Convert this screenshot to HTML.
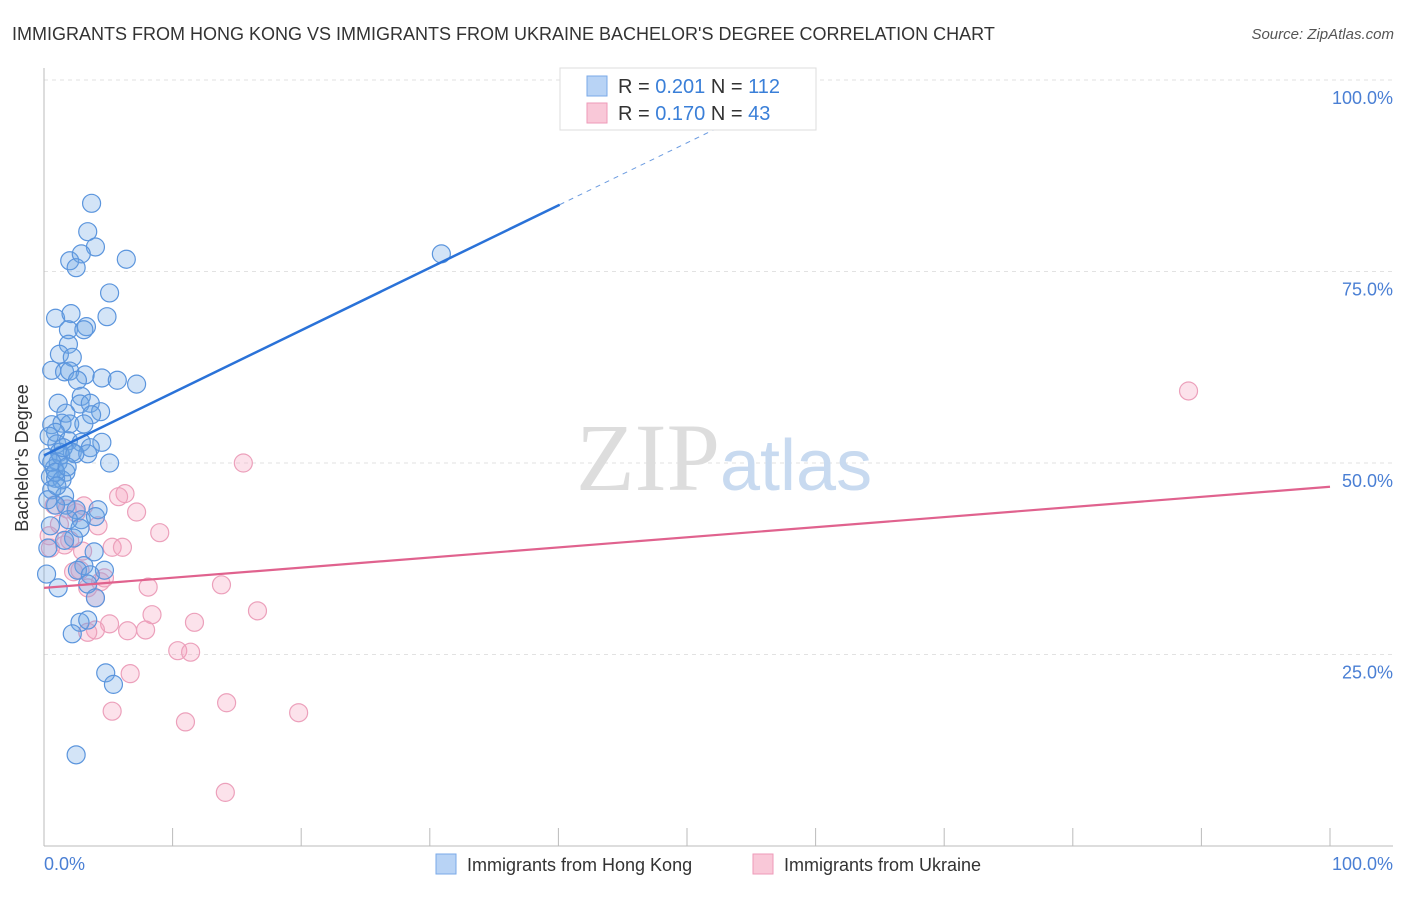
<!DOCTYPE html>
<html><head><meta charset="utf-8"><style>
body{margin:0;background:#fff;font-family:"Liberation Sans",sans-serif;}
svg text{font-family:"Liberation Sans",sans-serif;}
</style></head><body>
<svg width="1406" height="892" viewBox="0 0 1406 892">
<text x="12" y="40" font-size="18" fill="#333">IMMIGRANTS FROM HONG KONG VS IMMIGRANTS FROM UKRAINE BACHELOR'S DEGREE CORRELATION CHART</text>
<text x="1394" y="39" font-size="15" fill="#555" font-style="italic" text-anchor="end">Source: ZipAtlas.com</text>
<g id="grid"></g>
<text x="720" y="490" font-size="96" fill="#ddd" text-anchor="end" font-family="Liberation Serif" style="font-family:'Liberation Serif',serif">ZIP</text>
<text x="720" y="490" font-size="72" fill="#c8daf0">atlas</text>
<g id="points"></g>
<g id="lines"></g>
<text x="28" y="458" font-size="18" fill="#333" transform="rotate(-90 28 458)" text-anchor="middle">Bachelor's Degree</text>
<text x="44" y="870" font-size="18" fill="#4a7fd4">0.0%</text>
<text x="1393" y="870" font-size="18" fill="#4a7fd4" text-anchor="end">100.0%</text>
<g>
<rect x="560" y="68" width="256" height="62" fill="#fff" stroke="#ddd"/>
<rect x="587" y="76" width="20" height="20" fill="#b8d3f5" stroke="#7aaae8"/>
<rect x="587" y="103" width="20" height="20" fill="#f9c8d8" stroke="#ee9ab8"/>
<text x="618" y="93" font-size="20" fill="#333">R = <tspan fill="#3a7fd8">0.201</tspan>   N = <tspan fill="#3a7fd8">112</tspan></text>
<text x="618" y="120" font-size="20" fill="#333">R = <tspan fill="#3a7fd8">0.170</tspan>   N =  <tspan fill="#3a7fd8">43</tspan></text>
</g>
<g>
<rect x="436" y="854" width="20" height="20" fill="#b8d3f5" stroke="#7aaae8"/>
<text x="467" y="871" font-size="18" fill="#333">Immigrants from Hong Kong</text>
<rect x="753" y="854" width="20" height="20" fill="#f9c8d8" stroke="#ee9ab8"/>
<text x="784" y="871" font-size="18" fill="#333">Immigrants from Ukraine</text>
</g>
</svg>
<script>
const yTicks=[25,50,75,100];
const yTickLabels=["25.0%","50.0%","75.0%","100.0%"];
const xTicks=[0,10,20,30,40,50,60,70,80,90,100];
const blueX=[3.7,3.4,4.0,2.0,2.9,2.5,6.4,5.1,4.9,0.9,2.1,1.9,3.3,3.1,1.9,1.2,2.2,0.6,1.6,2.0,3.2,2.6,4.5,5.7,7.2,2.9,1.1,2.8,3.6,1.7,4.4,3.7,0.6,1.4,2.0,3.1,0.9,1.0,1.9,2.9,4.5,3.6,1.2,2.2,3.4,0.3,1.1,5.1,0.8,1.7,0.5,0.9,1.4,0.6,1.6,1.7,0.9,0.3,2.5,4.2,2.9,4.0,1.9,2.8,0.5,2.3,1.6,3.9,0.3,3.1,2.6,4.7,3.6,0.2,3.4,1.1,4.0,2.8,3.4,2.2,4.8,5.4,2.5,30.9,1.3,0.6,1.5,0.9,2.4,1.8,0.4,1.0];
const blueY=[83.9,80.2,78.2,76.4,77.3,75.5,76.6,72.2,69.1,68.9,69.5,67.4,67.8,67.4,65.5,64.2,63.8,62.1,61.9,62.0,61.5,60.8,61.1,60.8,60.3,58.7,57.8,57.7,57.8,56.5,56.7,56.3,55.0,55.2,55.1,55.1,54.0,52.5,52.9,52.7,52.7,52.0,51.4,51.4,51.2,50.7,50.1,50.0,49.3,48.8,48.2,48.0,47.8,46.5,45.7,44.5,44.5,45.2,43.9,43.9,42.6,43.0,42.6,41.5,41.8,40.2,39.9,38.4,38.9,36.6,36.0,36.0,35.4,35.5,34.2,33.7,32.4,29.2,29.5,27.7,22.6,21.1,11.9,77.3,51.0,50.1,52.0,48.8,51.2,49.5,53.5,47.0];
const pinkX=[89.0,15.5,6.3,5.8,7.2,9.0,4.2,3.1,0.8,5.3,6.1,2.0,1.6,0.5,2.3,4.7,3.4,8.1,13.8,4.0,16.6,8.4,11.7,5.1,4.0,3.4,6.5,7.9,10.4,11.4,6.7,5.3,14.2,11.0,19.8,14.1,2.8,1.2,2.5,0.4,3.0,1.8,4.4];
const pinkY=[59.4,50.0,46.0,45.6,43.6,40.9,41.8,44.4,44.5,39.0,39.0,39.9,39.3,38.9,35.8,35.0,33.7,33.8,34.1,32.4,30.7,30.2,29.2,29.0,28.2,27.9,28.1,28.2,25.5,25.3,22.5,17.6,18.7,16.2,17.4,7.0,36.0,42.0,43.5,40.5,38.5,44.0,34.5];
const blueTrend=[51.0,0.816]; // intercept, slope
const pinkTrend=[33.7,0.132];
const NS="http://www.w3.org/2000/svg";
const X=v=>44+v*12.86, Y=v=>846-v*7.66;
function mk(t,a,p){const e=document.createElementNS(NS,t);for(const k in a)e.setAttribute(k,a[k]);p.appendChild(e);return e;}
const g=document.getElementById('grid');
yTicks.forEach((t,i)=>{
 const l=mk('line',{x1:44,x2:1393,y1:Y(t),y2:Y(t),stroke:'#e2e2e2','stroke-dasharray':'4,4'},g);
 
 
 const tx=mk('text',{x:1393,y:Y(t)+24,'font-size':18,fill:'#4a7fd4','text-anchor':'end'},g);
 tx.textContent=yTickLabels[i];
 
 
});
const ax=mk('line',{x1:44,x2:1393,y1:846,y2:846,stroke:'#bbb'},g);


const ay=mk('line',{x1:44,x2:44,y1:68,y2:846,stroke:'#bbb'},g);


xTicks.forEach(t=>{const l=mk('line',{x1:X(t),x2:X(t),y1:828,y2:846,stroke:'#bbb'},g);
 
 });
const pg=document.getElementById('points');
pinkX.forEach((x,i)=>{const c=mk('circle',{cx:X(x),cy:Y(pinkY[i]),r:9,fill:'rgba(244,160,190,0.3)',stroke:'#eca0bb','stroke-width':1.2},pg);
 
 });
blueX.forEach((x,i)=>{const c=mk('circle',{cx:X(x),cy:Y(blueY[i]),r:9,fill:'rgba(110,165,230,0.3)',stroke:'#5b95dd','stroke-width':1.2},pg);
 
 });
const lg=document.getElementById('lines');
const f=(tr,x)=>tr[0]+tr[1]*x;
let l1=mk('line',{x1:X(0),y1:Y(f(blueTrend,0)),x2:X(40.1),y2:Y(f(blueTrend,40.1)),stroke:'#2a72d8','stroke-width':2.5},lg);


let l2=mk('line',{x1:X(40.1),y1:Y(f(blueTrend,40.1)),x2:X(54.5),y2:Y(f(blueTrend,54.5)),stroke:'#6b9be0','stroke-width':1,'stroke-dasharray':'5,5'},lg);


let l3=mk('line',{x1:X(0),y1:Y(f(pinkTrend,0)),x2:X(100),y2:Y(f(pinkTrend,100)),stroke:'#e0628e','stroke-width':2.2},lg);


</script>
</body></html>
